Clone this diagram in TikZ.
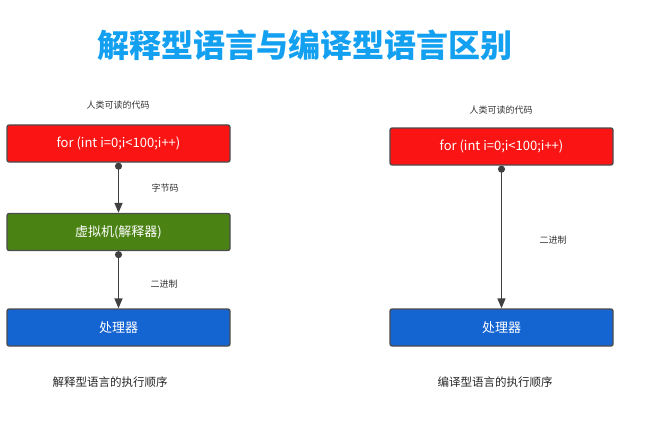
\documentclass[tikz,border=0pt]{standalone}
\usepackage{fontspec}
\newfontfamily\cjk{Noto Sans CJK SC}
\usetikzlibrary{arrows.meta}
\definecolor{tblue}{RGB}{20,160,240}
\definecolor{bred}{RGB}{250,20,20}
\definecolor{bgreen}{RGB}{75,130,20}
\definecolor{bblue}{RGB}{20,100,210}
\begin{document}
\begin{tikzpicture}[x=1pt,y=-1pt,
 box/.style={draw=black!70,line width=1.3pt,rounded corners=2pt,minimum width=223pt,minimum height=37pt,text=white,font=\cjk\fontsize{13}{15}\selectfont},
 lbl/.style={font=\cjk\fontsize{9}{11}\selectfont,text=black!80},
 captext/.style={font=\cjk\fontsize{11.5}{13}\selectfont,text=black!85},
 conn/.style={draw=black!75,line width=1.5pt,{Circle[length=7pt]}-{Triangle[length=10pt,width=8pt]}}]
\useasboundingbox (0,0) rectangle (662,436);
\node[font=\cjk\bfseries\fontsize{32}{36}\selectfont,text=tblue] (title) at (305,45) {解释型语言与编译型语言区别};
\node[box,fill=bred] (lsrc) at (118.5,143.5) {for (int i=0;i<100;i++)};
\node[box,fill=bgreen] (vm) at (118.5,232) {虚拟机(解释器)};
\node[box,fill=bblue] (lcpu) at (118.5,327.5) {处理器};
\node[box,fill=bred] (rsrc) at (501.5,146.5) {for (int i=0;i<100;i++)};
\node[box,fill=bblue] (rcpu) at (501.5,327.5) {处理器};
\node[lbl] (l1) at (118,105) {人类可读的代码};
\node[lbl] (l2) at (501,110) {人类可读的代码};
\node[lbl] (l3) at (165,188) {字节码};
\node[lbl] (l4) at (164,284) {二进制};
\node[lbl] (l5) at (553,240) {二进制};
\node[captext] (c1) at (110,382) {解释型语言的执行顺序};
\node[captext] (c2) at (495,382) {编译型语言的执行顺序};
\draw[conn] (lsrc.south) -- (vm.north);
\draw[conn] (vm.south) -- (lcpu.north);
\draw[conn] (rsrc.south) -- (rcpu.north);
\end{tikzpicture}
\end{document}
